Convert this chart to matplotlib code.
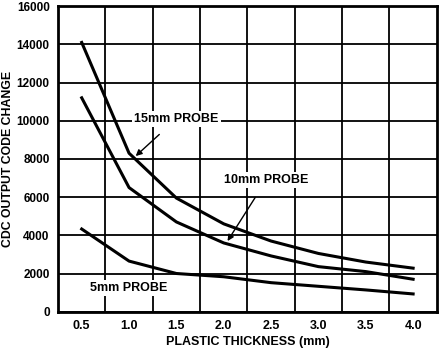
import matplotlib
matplotlib.use("Agg")
import matplotlib.pyplot as plt

plt.rcParams['font.family'] = ['Liberation Sans', 'DejaVu Sans']

# Daten
dicke = [0.5, 1.0, 1.5, 2.0, 2.5, 3.0, 3.5, 4.0]
sonde_15mm = [14100, 8300, 5950, 4600, 3700, 3050, 2600, 2280]
sonde_10mm = [11200, 6500, 4700, 3600, 2920, 2360, 2100, 1700]
sonde_5mm = [4330, 2650, 2000, 1830, 1520, 1330, 1140, 930]

x_labels = ['0.5', '1.0', '1.5', '2.0', '2.5', '3.0', '3.5', '4.0']
y_ticks = [0, 2000, 4000, 6000, 8000, 10000, 12000, 14000, 16000]

fig = plt.figure(figsize=(4.43, 3.52), dpi=100)
ax = fig.add_axes([0.131, 0.1145, 0.855, 0.868])

for serie in (sonde_15mm, sonde_10mm, sonde_5mm):
    ax.plot(dicke, serie, color='black', linewidth=2.2, zorder=3)

ax.set_xlim(0.25, 4.25)
ax.set_ylim(0, 16000)
ax.set_xticks(dicke)
ax.set_xticklabels(x_labels, fontweight='bold', fontsize=9)
ax.set_xticks([0.75 + 0.5 * i for i in range(7)], minor=True)
ax.set_yticks(y_ticks)
ax.set_yticklabels([str(v) for v in y_ticks], fontweight='bold', fontsize=8.5)
ax.tick_params(which='both', length=0, pad=6)
ax.grid(True, which='minor', axis='x', color='black', linewidth=1.3)
ax.grid(True, which='major', axis='y', color='black', linewidth=1.3)
ax.grid(False, which='major', axis='x')
for s in ax.spines.values():
    s.set_linewidth(2)

ax.set_xlabel("PLASTIC THICKNESS (mm)", fontweight='bold', fontsize=9, labelpad=3)
ax.set_ylabel("CDC OUTPUT CODE CHANGE", fontweight='bold', fontsize=8.8, labelpad=2)

box = dict(facecolor='white', edgecolor='none', pad=1.5)
ax.annotate("15mm PROBE", xy=(1.07, 8150), xytext=(1.5, 10100),
            ha='center', va='center', fontsize=9, fontweight='bold', bbox=box,
            arrowprops=dict(arrowstyle='-|>', color='black', lw=1, shrinkA=8, shrinkB=0),
            zorder=5)
ax.annotate("10mm PROBE", xy=(2.04, 3700), xytext=(2.45, 6900),
            ha='center', va='center', fontsize=9, fontweight='bold', bbox=box,
            arrowprops=dict(arrowstyle='-|>', color='black', lw=1, shrinkA=8, shrinkB=0),
            zorder=5)
ax.text(1.0, 1240, "5mm PROBE", ha='center', va='center', fontsize=9,
        fontweight='bold', bbox=box, zorder=5)

fig.savefig("out.png", dpi=100)
